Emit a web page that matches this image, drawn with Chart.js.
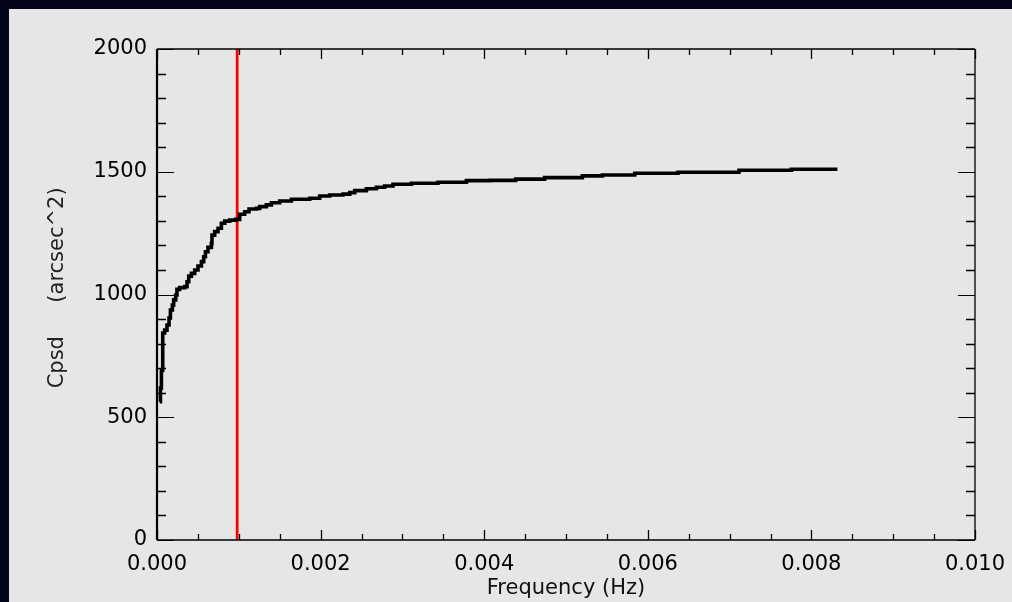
<!DOCTYPE html>
<html><head><meta charset="utf-8">
<script src="https://cdn.jsdelivr.net/npm/chart.js@4.4.0/dist/chart.umd.min.js"></script>
<style>
html,body{margin:0;padding:0;background:#03051a;overflow:hidden}
#wrap{position:absolute;left:0;top:0;width:1012px;height:602px}
</style></head><body><div id="wrap"><canvas id="c" width="1012" height="602"></canvas></div>
<script>
// ---- data ----
const freqHz = [0.000033,0.000042,0.000054,0.000070,0.000094,0.000122,0.000147,0.000164,0.000188,0.000204,
  0.000229,0.000244,0.000277,0.000339,0.000367,0.000388,0.000421,0.000461,0.000501,0.000543,
  0.000571,0.000592,0.000623,0.000665,0.000672,0.000705,0.000746,0.000787,0.000828,0.000889,
  0.000962,0.001011,0.001072,0.001125,0.001215,0.001256,0.001337,0.001399,0.001500,0.001643,
  0.001867,0.001989,0.002111,0.002274,0.002356,0.002417,0.002560,0.002682,0.002783,0.002885,
  0.003110,0.003435,0.003782,0.004067,0.004385,0.004739,0.005200,0.005445,0.005840,0.006369,
  0.007115,0.007756,0.008318];
const cpsd = [563,619,692,843,855,876,904,937,957,978,
  998,1021,1028,1032,1052,1075,1086,1100,1116,1134,
  1154,1174,1192,1208,1242,1256,1270,1290,1299,1303,
  1306,1327,1337,1348,1351,1358,1365,1374,1381,1388,
  1392,1401,1405,1409,1415,1423,1431,1437,1442,1449,
  1453,1457,1464,1465,1470,1476,1483,1487,1494,1498,
  1506,1510,1510];
const markerFreq = [0.00098, 0.00098];
const markerVal = [0, 2000];
const xTickLabels = ['0.000','0.002','0.004','0.006','0.008','0.010'];
const yTickLabels = ['0','500','1000','1500','2000'];
const xTitle = 'Frequency (Hz)';
const yTitle = '  Cpsd     (arcsec^2)';

const FONT = 'DejaVu Sans';

const bgPlugin = {
  id: 'bg',
  beforeDraw(chart) {
    const ctx = chart.ctx;
    ctx.save();
    ctx.fillStyle = '#03051a';
    ctx.fillRect(0, 0, chart.width, chart.height);
    ctx.fillStyle = '#e6e6e6';
    ctx.fillRect(9, 9, chart.width - 9, chart.height - 9);
    ctx.restore();
  }
};

const framePlugin = {
  id: 'frame',
  afterDraw(chart) {
    const ctx = chart.ctx;
    const a = chart.chartArea;
    const xs = chart.scales.x, ys = chart.scales.y;
    ctx.save();
    ctx.strokeStyle = '#000';
    ctx.lineWidth = 2.2;
    ctx.beginPath(); ctx.moveTo(a.left, a.top); ctx.lineTo(a.left, a.bottom); ctx.stroke();
    ctx.lineWidth = 1.3;
    ctx.beginPath();
    ctx.moveTo(a.left, a.bottom); ctx.lineTo(a.right, a.bottom);
    ctx.moveTo(a.left, a.top); ctx.lineTo(a.right, a.top);
    ctx.moveTo(a.right, a.top); ctx.lineTo(a.right, a.bottom);
    ctx.stroke();
    for (let v = 0; v <= 2000; v += 100) {
      const y = Math.round(ys.getPixelForValue(v)) + 0.5;
      const major = v % 500 === 0;
      const len = major ? 17 : 9;
      ctx.lineWidth = major ? 1.2 : 1.6;
      ctx.beginPath();
      ctx.moveTo(a.left, y); ctx.lineTo(a.left + len, y);
      ctx.moveTo(a.right, y); ctx.lineTo(a.right - len, y);
      ctx.stroke();
    }
    for (let i = 0; i <= 20; i++) {
      const v = i * 0.0005;
      const x = Math.round(xs.getPixelForValue(v)) + 0.5;
      const major = i % 4 === 0;
      const len = major ? 10 : 6;
      ctx.lineWidth = 1.3;
      ctx.beginPath();
      ctx.moveTo(x, a.bottom); ctx.lineTo(x, a.bottom - len);
      ctx.moveTo(x, a.top); ctx.lineTo(x, a.top + len);
      ctx.stroke();
    }
    ctx.restore();
  }
};

new Chart(document.getElementById('c'), {
  type: 'scatter',
  data: {
    datasets: [
      {
        data: markerFreq.map((f, i) => ({x: f, y: markerVal[i]})),
        showLine: true, borderColor: '#ff0000', borderWidth: 2.8,
        pointRadius: 0, fill: false, order: 2
      },
      {
        data: freqHz.map((f, i) => ({x: f, y: cpsd[i]})),
        showLine: true, borderColor: '#000000', borderWidth: 3.6,
        pointRadius: 0, fill: false, stepped: 'before', order: 1
      }
    ]
  },
  options: {
    responsive: false, animation: false, devicePixelRatio: 1,
    layout: { padding: { left: 0, top: 49, right: 37, bottom: 0 } },
    plugins: { legend: { display: false }, tooltip: { enabled: false }, title: { display: false } },
    scales: {
      x: {
        type: 'linear', min: 0, max: 0.010,
        afterFit(s) { s.height = 62; s.paddingRight = 0; s.paddingLeft = 0; },
        afterBuildTicks(s) { s.ticks = xTickLabels.map(t => ({ value: parseFloat(t) })); },
        ticks: {
          callback: (v) => xTickLabels.find(t => Math.abs(parseFloat(t) - v) < 1e-9) || '',
          color: '#000', padding: 12, maxRotation: 0, autoSkip: false,
          font: { family: FONT, size: 21, weight: 'normal' }
        },
        grid: { display: false, drawTicks: false },
        border: { display: false },
        title: { display: true, text: xTitle, color: '#111', padding: { top: 0, bottom: 1 },
          font: { family: FONT, size: 21, weight: 'normal' } }
      },
      y: {
        type: 'linear', min: 0, max: 2000,
        afterFit(s) { s.width = 157; },
        afterBuildTicks(s) { s.ticks = yTickLabels.map(t => ({ value: parseFloat(t) })); },
        ticks: {
          callback: (v) => yTickLabels.find(t => parseFloat(t) === v) || '',
          color: '#000', padding: 10, autoSkip: false,
          font: { family: FONT, size: 21, weight: 'normal' }
        },
        grid: { display: false, drawTicks: false },
        border: { display: false },
        title: { display: true, text: yTitle, color: '#222', padding: { top: 45, bottom: 0 },
          font: { family: FONT, size: 21, weight: 'normal' } }
      }
    }
  },
  plugins: [bgPlugin, framePlugin]
});
</script></body></html>
